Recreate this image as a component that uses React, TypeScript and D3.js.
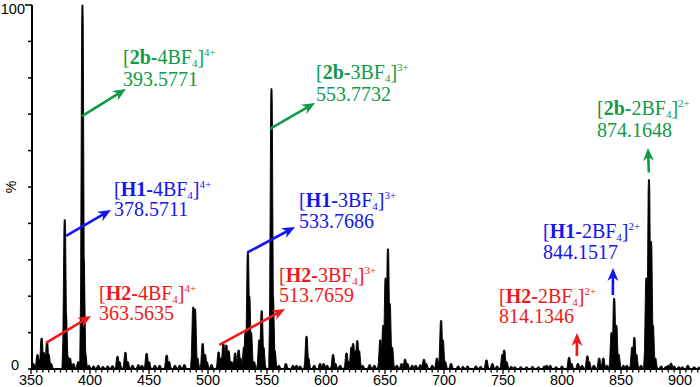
import React from "react";
import * as d3 from "d3";

// ---- Data (m/z, relative intensity %) ----
const peakMz = [
  352, 355.5, 357, 359, 361, 363.6, 365, 367,
  378.6, 379.6, 381, 383, 386, 390,
  393.6, 394.6, 396, 399, 403, 407, 411, 415, 419,
  423.3, 425, 430, 432, 436, 441, 444, 448, 450, 455, 459, 465, 467, 472, 476, 480,
  487.5, 489, 491, 495.5, 497.5, 499, 503,
  509, 511, 513, 515.5, 517.5, 520, 523, 526, 527.5,
  530.5, 531.8, 533.8, 535, 536.5, 539, 543.5, 545.5, 547,
  553.8, 555, 556.5, 560, 566, 572, 575, 578,
  583.5, 585, 590, 595, 598, 601, 606, 608, 612,
  617.4, 619, 621.5, 623, 625, 626.5, 628, 631, 637, 641,
  646, 648.5, 650.5, 652.5, 654, 656, 660, 664, 667, 669, 673, 676, 680, 683, 685, 690,
  694, 697.5, 699, 701, 706, 712, 716, 720, 727, 731,
  736, 741, 745, 749.5, 751, 753, 757, 760, 765, 770, 775, 780,
  785, 787, 790, 795, 800, 806, 808, 813.5, 817, 821.5, 823, 827, 831.5, 835, 838,
  842, 844.2, 846, 848, 852, 855, 859.5, 861.3, 863, 867,
  871.5, 873.7, 875.5, 877, 879, 884, 888, 890, 892.4, 895, 899, 902, 906.6, 912, 916,
];
const peakIntensity = [
  1.5, 4, 2.5, 8.5, 4.5, 7.5, 4, 1.5,
  41, 15, 3.5, 3, 1.5, 2,
  100, 30, 4, 1, 0.8, 1, 0.7, 0.8, 0.9,
  3.5, 2, 4.6, 2, 1, 1.2, 1, 4.3, 2, 1, 1, 3.8, 2, 1, 1, 1.2,
  17, 16.5, 3, 7, 4, 2, 1.2,
  4.7, 3, 7, 6.6, 5, 2, 4.4, 5.2, 3,
  6, 10, 32, 20, 10, 2, 8, 16, 6,
  77, 20, 5, 1, 1.5, 1, 1, 0.8,
  9, 3, 1, 1.5, 1.5, 1, 4, 1.5, 1,
  4.4, 2, 6, 7, 5, 7.8, 5, 1, 1.2, 1,
  8, 12, 25, 33, 18, 6, 1, 1.5, 2.7, 1.5, 1, 1, 1.2, 2.7, 1.5, 1,
  3, 13.3, 8, 2, 1.5, 0.8, 0.7, 0.8, 0.8, 0.7,
  2.5, 1.5, 0.8, 4, 5.2, 2, 0.7, 0.6, 0.6, 0.6, 0.7, 0.6,
  0.8, 1, 1, 0.6, 0.8, 3.2, 1.5, 1.5, 1, 3.6, 2, 1, 3, 3, 1,
  10, 19.4, 12, 4, 1, 1, 6, 8.7, 4, 1,
  25, 52, 35, 12, 3, 0.8, 0.7, 1, 1.6, 0.8, 0.6, 0.6, 1, 0.6, 0.5,
];

const xTickLabels = [350, 400, 450, 500, 550, 600, 650, 700, 750, 800, 850, 900];
const yTickLabels = [0, 100];

// annotations
const ionCore = ["2b", "2b", "2b", "H1", "H1", "H1", "H2", "H2", "H2"];
const ionLoss = ["4BF", "3BF", "2BF", "4BF", "3BF", "2BF", "4BF", "3BF", "2BF"];
const ionCharge = ["4+", "3+", "2+", "4+", "3+", "2+", "4+", "3+", "2+"];
const ionMass = ["393.5771", "553.7732", "874.1648", "378.5711", "533.7686", "844.1517", "363.5635", "513.7659", "814.1346"];
const ionGroupColor: Record<string, string> = { "2b": "#0f9a48", H1: "#1414f0", H2: "#f01818" };
// arrow start on the peak (m/z, %)
const arrowStartMz = [393.2, 552.5, 873.6, 379.7, 533.3, 843.1, 362.7, 509.6, 812.6];
const arrowStartInt = [69.5, 66, 54, 36.6, 32, 20.3, 7.2, 6.6, 3.6];

// layout (pixels)
const labelPos = [
  [123, 64, 86], [316, 79, 101], [597, 115, 137],
  [114, 196, 216], [299, 207, 228], [543, 238, 259],
  [99, 300, 320], [279, 282, 302], [499, 303, 323],
];
const arrowTip = [
  [126, 89], [315, 103], [648, 148],
  [111, 210], [295, 227], [613, 268],
  [91, 316], [285, 309], [577, 333],
];

const W = 700, H = 387;
const x = d3.scaleLinear().domain([350, 900]).range([31, 680]);
const y = d3.scaleLinear().domain([0, 100]).range([369, 5]);

const tpl: [number, number][] = [
  [-2.8, 0], [-1.9, 0.2], [-1.3, 0.6], [-0.8, 0.95], [-0.5, 1], [0.5, 1], [0.8, 0.95], [1.3, 0.6], [1.9, 0.2], [2.8, 0],
];

function Arrow({ x1, y1, x2, y2, color }: { x1: number; y1: number; x2: number; y2: number; color: string }) {
  const a = Math.atan2(y2 - y1, x2 - x1);
  const L = 13, hw = 5.5, notch = 4;
  const cos = Math.cos(a), sin = Math.sin(a);
  const p = (dx: number, dy: number) => [x2 + dx * cos - dy * sin, y2 + dx * sin + dy * cos];
  const pts = [p(0, 0), p(-L, -hw), p(-L + notch, 0), p(-L, hw)];
  const lx = x2 - (L - notch) * cos, ly = y2 - (L - notch) * sin;
  return (
    <g>
      <line x1={x1} y1={y1} x2={lx} y2={ly} stroke={color} strokeWidth={2.6} />
      <polygon points={pts.map((q) => q.join(",")).join(" ")} fill={color} />
    </g>
  );
}

export default function App() {
  const line = d3.line<[number, number]>().x((d) => d[0]).y((d) => d[1]);
  const minorTicks = d3.range(350, 921, 5);
  const yTicks = d3.range(0, 101, 10);
  return (
    <svg width={W} height={H} style={{ display: "block", position: "absolute", left: 0, top: 0 }}>
      <rect width={W} height={H} fill="#fff" />
      {/* peaks */}
      <g fill="#000" stroke="#000" strokeWidth={0.9} strokeLinejoin="round">
        {peakMz.map((mz, i) => {
          const cx = x(mz);
          const h = y(0) - y(peakIntensity[i]);
          const pts = tpl.map(([dx, f]) => [cx + dx, y(0) - f * h] as [number, number]);
          return <path key={i} d={line(pts) + "Z"} />;
        })}
      </g>
      {/* x axis */}
      <line x1={31} x2={700} y1={369} y2={369} stroke="#000" strokeWidth={2.2} />
      {minorTicks.map((t) => (
        <line key={t} x1={x(t)} x2={x(t)} y1={369} y2={t % 50 === 0 ? 374 : 372.5} stroke="#000" strokeWidth={1.3} />
      ))}
      {xTickLabels.map((t) => (
        <text key={t} x={x(t)} y={385} textAnchor="middle" fontFamily="Liberation Sans, Arial, sans-serif" fontSize={14.5} fill="#000">
          {t}
        </text>
      ))}
      {/* y axis */}
      <line x1={32} x2={32} y1={5} y2={370} stroke="#000" strokeWidth={2} />
      {yTicks.map((t) => (
        <line key={t} x1={t === 100 ? 25 : 28} x2={32} y1={y(t)} y2={y(t)} stroke="#000" strokeWidth={1.5} />
      ))}
      {yTickLabels.map((t) => (
        <text key={t} x={t === 100 ? 25 : 19} y={t === 100 ? 14 : 370} textAnchor="end" fontFamily="Liberation Sans, Arial, sans-serif" fontSize={14.5} fill="#000">
          {t}
        </text>
      ))}
      <text transform="translate(16,187) rotate(-90)" textAnchor="middle" fontFamily="Liberation Sans, Arial, sans-serif" fontSize={14} fill="#000">
        %
      </text>
      {/* annotations */}
      {ionCore.map((core, i) => {
        const color = ionGroupColor[core];
        const [lx, ly1, ly2] = labelPos[i];
        return (
          <g key={i} fill={color} fontFamily="Liberation Serif, Times New Roman, serif" fontSize={20}>
            <text x={lx} y={ly1}>
              {"["}
              <tspan fontWeight="bold">{core + "-"}</tspan>
              {ionLoss[i]}
              <tspan fontSize={11} dy={3}>4</tspan>
              <tspan dy={-3}>{"]"}</tspan>
              <tspan fontSize={11} dy={-8}>{ionCharge[i]}</tspan>
            </text>
            <text x={lx} y={ly2}>{ionMass[i]}</text>
            <Arrow x1={x(arrowStartMz[i])} y1={y(arrowStartInt[i])} x2={arrowTip[i][0]} y2={arrowTip[i][1]} color={color} />
          </g>
        );
      })}
    </svg>
  );
}
